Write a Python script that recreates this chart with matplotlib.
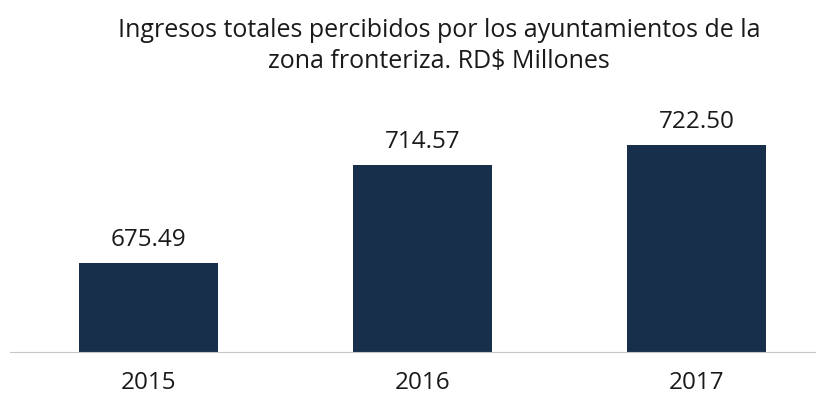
import matplotlib.pyplot as plt

plt.rcParams["font.family"] = ["Open Sans", "DejaVu Sans"]

years = ["2015", "2016", "2017"]
ingresos = [675.49, 714.57, 722.50]
bar_color = "#182f4b"

fig = plt.figure(figsize=(8.21, 4.03), dpi=100)
# axes placed in pixel terms: left 10, right 815, bottom at y=352, top ~100
ax = fig.add_axes([10 / 821, (403 - 352) / 403, 805 / 821, 252 / 403])

x = range(len(years))
bars = ax.bar(x, ingresos, width=0.507, color=bar_color, zorder=2)
ax.set_ylim(640, 740.4)
ax.set_xlim(-0.505, 2.432)

for b, v in zip(bars, ingresos):
    ax.text(b.get_x() + b.get_width() / 2, v + 6.8, f"{v:,.2f}",
            ha="center", va="baseline", fontsize=17.5, color="#1a1a1a")

ax.set_xticks(list(x))
ax.set_xticklabels(years, fontsize=17.5, color="#1a1a1a")
ax.tick_params(axis="x", length=0, pad=14)
ax.set_yticks([])
for s in ["top", "right", "left"]:
    ax.spines[s].set_visible(False)
ax.spines["bottom"].set_color("#c8c8c8")

fig.text(439 / 821, 1 - 46 / 403,
         "Ingresos totales percibidos por los ayuntamientos de la\nzona fronteriza. RD$ Millones",
         ha="center", va="center", fontsize=18, color="#1a1a1a", linespacing=1.35)

fig.savefig("out.png", dpi=100)
